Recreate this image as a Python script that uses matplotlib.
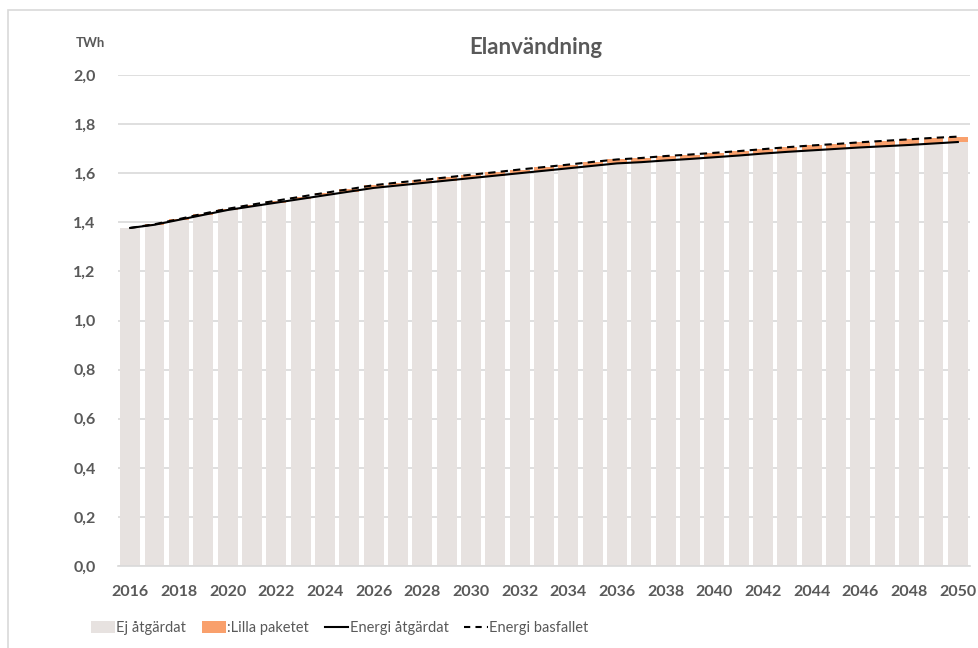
import numpy as np
import matplotlib.pyplot as plt
from matplotlib.patches import Patch, Rectangle
from matplotlib.lines import Line2D

plt.rcParams['font.family'] = ['Lato', 'DejaVu Sans']

# Years on the x axis
years = np.arange(2016, 2051)

# Energy use with measures (TWh)
energi_atgardat = [1.377, 1.390, 1.410, 1.430, 1.450, 1.465, 1.480, 1.495, 1.510, 1.525,
                   1.540, 1.550, 1.560, 1.570, 1.580, 1.590, 1.600, 1.610, 1.620, 1.630,
                   1.640, 1.645, 1.652, 1.658, 1.665, 1.672, 1.680, 1.687, 1.693, 1.699,
                   1.705, 1.710, 1.715, 1.721, 1.727]

# Energy use, base case (TWh)
energi_basfallet = [1.377, 1.392, 1.413, 1.435, 1.455, 1.472, 1.488, 1.504, 1.520, 1.535,
                    1.551, 1.562, 1.572, 1.583, 1.594, 1.604, 1.615, 1.625, 1.635, 1.646,
                    1.656, 1.662, 1.670, 1.676, 1.683, 1.690, 1.698, 1.706, 1.713, 1.719,
                    1.726, 1.732, 1.738, 1.744, 1.749]

year_ticks = np.arange(2016, 2051, 2)
y_ticks = [0.0, 0.2, 0.4, 0.6, 0.8, 1.0, 1.2, 1.4, 1.6, 1.8, 2.0]

ej_atgardat = np.array(energi_atgardat)
lilla_paketet = np.array(energi_basfallet) - ej_atgardat

text_col = '#595959'
grey_col = '#E7E2E0'
orange_col = '#F9A06C'

fig = plt.figure(figsize=(9.79, 6.48), dpi=100)
ax = fig.add_axes([118/979, 82/648, (970-118)/979, (566-75)/648])

ax.bar(years, ej_atgardat, width=0.82, color=grey_col, zorder=2)
ax.bar(years, lilla_paketet, bottom=ej_atgardat, width=0.82, color=orange_col, zorder=2)
ax.plot(years, energi_atgardat, color='black', lw=1.5, zorder=3)
ax.plot(years, energi_basfallet, color='black', lw=1.5, ls=(0, (3.5, 2.5)), zorder=3)

ax.set_xlim(2015.5, 2050.5)
ax.set_ylim(0, 2.0)
ax.set_yticks(y_ticks)
ax.set_yticklabels([f'{v:.1f}'.replace('.', ',') for v in y_ticks])
ax.set_xticks(year_ticks)
ax.set_xticklabels([str(y) for y in year_ticks])
ax.yaxis.grid(True, color='#D9D9D9', lw=1.2, zorder=0)
ax.set_axisbelow(True)
for s in ['top', 'right', 'left']:
    ax.spines[s].set_visible(False)
ax.spines['bottom'].set_color('#D9D9D9')
ax.spines['bottom'].set_linewidth(1.2)
ax.tick_params(axis='both', length=0, colors=text_col, labelsize=11.5)
ax.tick_params(axis='y', pad=16)
ax.tick_params(axis='x', pad=14)
for lab in ax.get_xticklabels() + ax.get_yticklabels():
    lab.set_fontweight('bold')

fig.text(536/979, 1 - 48/648, 'Elanvändning', ha='center', va='center',
         fontsize=16, fontweight='bold', color=text_col)
fig.text(90/979, 1 - 43/648, 'TWh', ha='center', va='center',
         fontsize=9.5, fontweight='bold', color=text_col)

# chart border (Excel chart area)
fig.patches.append(Rectangle((8/979, -0.05), 1.2, 1 - 10/648 + 0.05, transform=fig.transFigure,
                             fill=False, edgecolor='#D9D9D9', lw=1.2))

handles = [Patch(facecolor=grey_col, edgecolor='none'),
           Patch(facecolor=orange_col, edgecolor='none'),
           Line2D([], [], color='black', lw=1.5),
           Line2D([], [], color='black', lw=1.5, ls=(0, (3, 2.5)))]
labels = ['Ej åtgärdat', ':Lilla paketet', 'Energi åtgärdat', 'Energi basfallet']
leg = fig.legend(handles, labels, ncol=4, loc='center', bbox_to_anchor=(340/979, 1 - 628/648),
                 frameon=False, handlelength=1.6, handleheight=0.9,
                 handletextpad=0.1, columnspacing=1.1, fontsize=10.5)
for t in leg.get_texts():
    t.set_color(text_col)

fig.savefig('out.png', dpi=100)
